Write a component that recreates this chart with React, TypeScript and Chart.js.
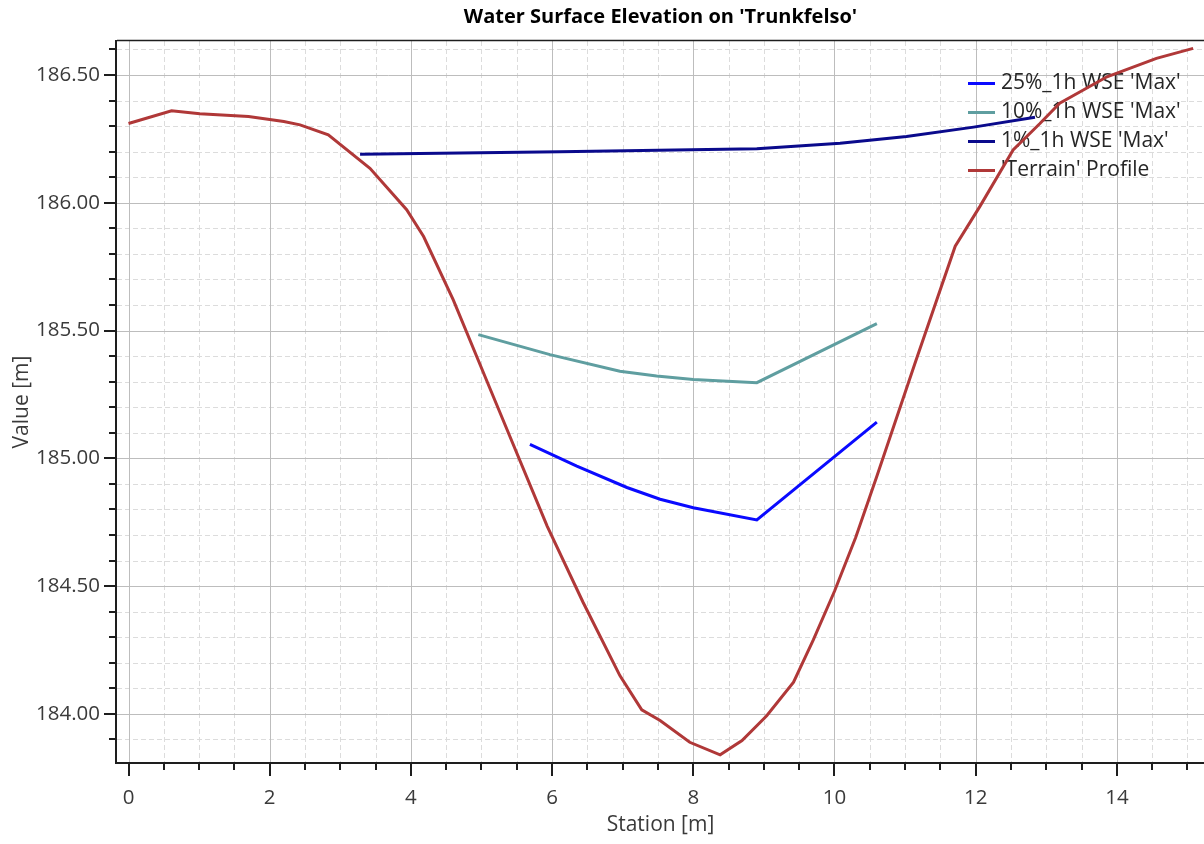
import React, { useEffect, useRef } from 'react';
import { Chart, registerables } from 'chart.js';

Chart.register(...registerables);

const FONT = "'Open Sans', 'Noto Sans', sans-serif";

// ---- data (station [m], elevation [m]) ----
const terrainStation = [0, 0.61, 1.01, 1.7, 2.2, 2.43, 2.83, 3.42, 3.94, 4.18, 4.6, 5.17, 5.93, 6.44, 6.96, 7.27, 7.53, 7.95, 8.38, 8.69, 9.04, 9.42, 9.7, 10.0, 10.3, 10.6, 11.15, 11.71, 12.06, 12.53, 12.91, 13.19, 13.86, 14.56, 15.08];
const terrainElevation = [186.31, 186.36, 186.348, 186.338, 186.318, 186.305, 186.266, 186.135, 185.973, 185.868, 185.62, 185.24, 184.735, 184.436, 184.15, 184.016, 183.974, 183.889, 183.84, 183.896, 183.993, 184.124, 184.29, 184.48, 184.69, 184.93, 185.38, 185.83, 185.986, 186.207, 186.31, 186.39, 186.493, 186.565, 186.604];

const wse25Station = [5.686, 6.35, 7.06, 7.53, 8.0, 8.9, 10.6];
const wse25Elevation = [185.055, 184.97, 184.886, 184.84, 184.807, 184.759, 185.142];

const wse10Station = [4.955, 5.97, 6.96, 7.48, 8.0, 8.9, 10.6];
const wse10Elevation = [185.484, 185.406, 185.341, 185.322, 185.309, 185.296, 185.527];

const wse1Station = [3.28, 6.11, 8.9, 10.08, 11.02, 11.97, 12.84];
const wse1Elevation = [186.19, 186.2, 186.211, 186.233, 186.259, 186.296, 186.335];

const seriesLabels = ["25%_1h WSE 'Max'", "10%_1h WSE 'Max'", "1%_1h WSE 'Max'", "'Terrain' Profile"];
const seriesColors = ['#0a0aff', '#5f9ea0', '#0a0a8c', '#b03838'];

const titleText = "Water Surface Elevation on 'Trunkfelso'";
const xTitle = 'Station [m]';
const yTitle = 'Value [m]';

const xMin = -0.163;
const xMax = 15.234;
const yMin = 183.808;
const yMax = 186.633;
const xMajorStep = 2;
const xMinorStep = 0.5;
const yMajorStep = 0.5;
const yMinorStep = 0.1;

const toPoints = (xs: number[], ys: number[]) => xs.map((x, i) => ({ x, y: ys[i] }));

const gridPlugin = {
  id: 'customGrid',
  beforeDatasetsDraw(chart: any) {
    const { ctx, chartArea: a, scales } = chart;
    const xs = scales.x;
    const ys = scales.y;
    ctx.save();
    ctx.beginPath();
    ctx.rect(a.left, a.top, a.right - a.left, a.bottom - a.top);
    ctx.clip();
    // minor dashed
    ctx.lineWidth = 1;
    ctx.strokeStyle = '#dcdcdc';
    ctx.setLineDash([5, 3]);
    for (let i = Math.ceil(xMin / xMinorStep); i * xMinorStep <= xMax; i++) {
      if (i % Math.round(xMajorStep / xMinorStep) === 0) continue;
      const px = Math.round(xs.getPixelForValue(i * xMinorStep)) + 0.5;
      ctx.beginPath(); ctx.moveTo(px, a.top); ctx.lineTo(px, a.bottom); ctx.stroke();
    }
    for (let i = Math.ceil(yMin / yMinorStep); i * yMinorStep <= yMax + 1e-9; i++) {
      if (i % Math.round(yMajorStep / yMinorStep) === 0) continue;
      const py = Math.round(ys.getPixelForValue(i * yMinorStep)) + 0.5;
      ctx.beginPath(); ctx.moveTo(a.left, py); ctx.lineTo(a.right, py); ctx.stroke();
    }
    // major solid
    ctx.setLineDash([]);
    ctx.strokeStyle = '#bdbdbd';
    for (let i = Math.ceil(xMin / xMajorStep); i * xMajorStep <= xMax; i++) {
      const px = Math.round(xs.getPixelForValue(i * xMajorStep)) + 0.5;
      ctx.beginPath(); ctx.moveTo(px, a.top); ctx.lineTo(px, a.bottom); ctx.stroke();
    }
    for (let i = Math.ceil(yMin / yMajorStep); i * yMajorStep <= yMax; i++) {
      const py = Math.round(ys.getPixelForValue(i * yMajorStep)) + 0.5;
      ctx.beginPath(); ctx.moveTo(a.left, py); ctx.lineTo(a.right, py); ctx.stroke();
    }
    ctx.restore();

    // legend (inside plot, no box)
    ctx.save();
    ctx.font = `21px ${FONT}`;
    ctx.textBaseline = 'middle';
    ctx.textAlign = 'left';
    const lx = 968;
    const rowY = [83.5, 112.5, 141.5, 170.5];
    seriesLabels.forEach((lab, i) => {
      ctx.strokeStyle = seriesColors[i];
      ctx.lineWidth = 3;
      ctx.beginPath(); ctx.moveTo(lx, rowY[i]); ctx.lineTo(lx + 27, rowY[i]); ctx.stroke();
      ctx.fillStyle = '#262626';
      ctx.fillText(lab, lx + 33, rowY[i]);
    });
    ctx.restore();
  },
  afterDraw(chart: any) {
    const { ctx, chartArea: a, scales } = chart;
    const xs = scales.x;
    const ys = scales.y;
    ctx.save();
    ctx.strokeStyle = '#1e1e1e';
    // top frame
    ctx.lineWidth = 1.5;
    ctx.beginPath(); ctx.moveTo(a.left, a.top - 0.5); ctx.lineTo(a.right, a.top - 0.5); ctx.stroke();
    // axes lines
    ctx.lineWidth = 2;
    ctx.beginPath(); ctx.moveTo(a.left - 1, a.top - 1); ctx.lineTo(a.left - 1, a.bottom + 1); ctx.stroke();
    ctx.beginPath(); ctx.moveTo(a.left - 2, a.bottom); ctx.lineTo(a.right, a.bottom); ctx.stroke();
    // x ticks
    const xr = Math.round(xMajorStep / xMinorStep);
    for (let i = Math.ceil(xMin / xMinorStep); i * xMinorStep <= xMax; i++) {
      const px = Math.round(xs.getPixelForValue(i * xMinorStep));
      const len = i % xr === 0 ? 13 : 7;
      ctx.beginPath(); ctx.moveTo(px, a.bottom); ctx.lineTo(px, a.bottom + len); ctx.stroke();
    }
    // y ticks
    const yr = Math.round(yMajorStep / yMinorStep);
    for (let i = Math.ceil(yMin / yMinorStep); i * yMinorStep <= yMax + 1e-9; i++) {
      const py = Math.round(ys.getPixelForValue(i * yMinorStep));
      const len = i % yr === 0 ? 12 : 7;
      ctx.beginPath(); ctx.moveTo(a.left - 1, py); ctx.lineTo(a.left - 1 - len, py); ctx.stroke();
    }
    ctx.restore();
  },
};

export default function App() {
  const canvasRef = useRef<HTMLCanvasElement | null>(null);

  useEffect(() => {
    const canvas = canvasRef.current;
    if (!canvas) return;
    const mk = (i: number, data: { x: number; y: number }[]) => ({
      label: seriesLabels[i],
      data,
      borderColor: seriesColors[i],
      backgroundColor: seriesColors[i],
      borderWidth: 3,
      pointRadius: 0,
      tension: 0,
      fill: false,
    });
    const chart = new Chart(canvas, {
      type: 'line',
      data: {
        datasets: [
          mk(3, toPoints(terrainStation, terrainElevation)),
          mk(0, toPoints(wse25Station, wse25Elevation)),
          mk(1, toPoints(wse10Station, wse10Elevation)),
          mk(2, toPoints(wse1Station, wse1Elevation)),
        ],
      },
      options: {
        responsive: false,
        animation: false,
        layout: { padding: 0 },
        plugins: {
          legend: { display: false },
          tooltip: { enabled: false },
          title: {
            display: true,
            text: titleText,
            fullSize: false,
            color: '#000000',
            font: { family: FONT, size: 20, weight: 'bold' },
            padding: { top: 5, bottom: 12 },
          },
        },
        scales: {
          x: {
            type: 'linear',
            position: 'bottom',
            min: xMin,
            max: xMax,
            grid: { display: false, drawTicks: false },
            border: { display: false },
            ticks: {
              stepSize: xMajorStep,
              includeBounds: false,
              autoSkip: false,
              maxRotation: 0,
              padding: 23,
              color: '#3a3a3a',
              font: { family: FONT, size: 20.5 },
              callback: (v: any) => String(v),
            },
            title: {
              display: true,
              text: xTitle,
              color: '#3a3a3a',
              font: { family: FONT, size: 21 },
              padding: { top: 0, bottom: 6 },
            },
            afterFit: (s: any) => { s.height = 81; },
          },
          y: {
            type: 'linear',
            position: 'left',
            min: yMin,
            max: yMax,
            grid: { display: false, drawTicks: false },
            border: { display: false },
            ticks: {
              stepSize: yMajorStep,
              includeBounds: false,
              autoSkip: false,
              padding: 17,
              color: '#3a3a3a',
              font: { family: FONT, size: 20.5 },
              callback: (v: any) => Number(v).toFixed(2),
            },
            title: {
              display: true,
              text: yTitle,
              color: '#3a3a3a',
              font: { family: FONT, size: 21 },
              padding: { top: 9, bottom: 0 },
            },
            afterFit: (s: any) => { s.width = 117; },
          },
        },
      },
      plugins: [gridPlugin],
    } as any);
    return () => chart.destroy();
  }, []);

  return (
    <div style={{ position: 'absolute', left: 0, top: 0, width: 1204, height: 844, background: '#ffffff' }}>
      <canvas ref={canvasRef} width={1204} height={844} style={{ display: 'block' }} />
    </div>
  );
}
